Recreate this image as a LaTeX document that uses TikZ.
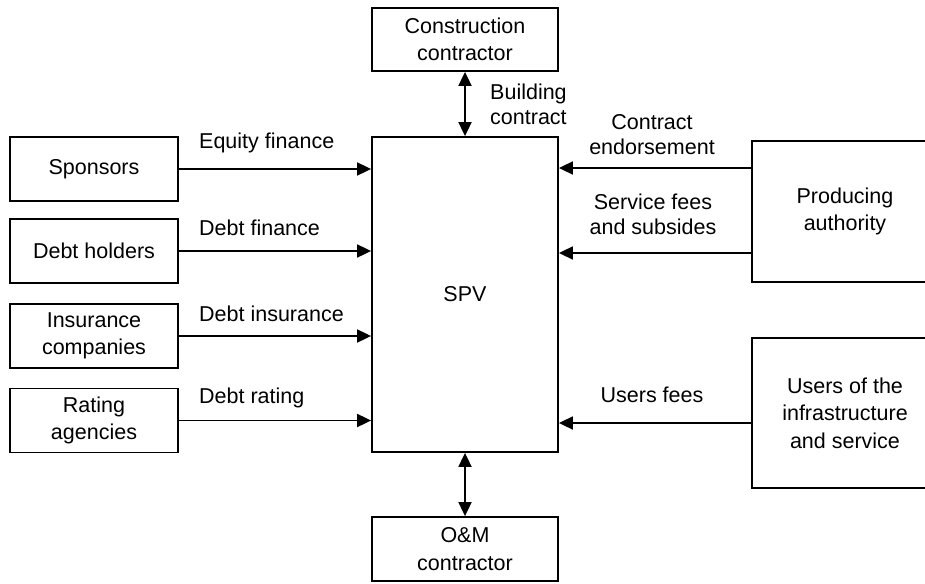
\documentclass[tikz,border=0pt]{standalone}
\usepackage{fontspec}
\setmainfont{Liberation Sans}
\usetikzlibrary{arrows.meta}
\begin{document}
\begin{tikzpicture}[x=1pt,y=-1pt,
  every node/.style={font=\fontsize{21.5}{27.5}\selectfont},
  box/.style={draw,line width=1.8pt,align=center,inner sep=0pt,minimum width=#1},
  box/.default=186pt,
  lbl/.style={inner sep=0pt,align=center,font=\fontsize{21.5}{25}\selectfont},
  arr/.style={line width=1.8pt,-{Triangle[length=14pt,width=13pt]}},
  darr/.style={line width=1.8pt,{Triangle[length=14pt,width=13pt]}-{Triangle[length=14pt,width=13pt]}}]
\useasboundingbox (0,0) rectangle (925,583);
\clip (0,0) rectangle (925,583);

% central vehicle and its contractors
\node[box,minimum height=63pt] (cons) at (465,39.5) {Construction\\contractor};
\node[box,minimum height=315pt] (spv) at (465,294.5) {SPV};
\node[box,minimum height=64pt] (om) at (465,549) {O\&M\\contractor};

% financing parties
\node[box=168pt,minimum height=64pt] (spon) at (94,169) {Sponsors};
\node[box=168pt,minimum height=64pt] (debt) at (94,251) {Debt holders};
\node[box=168pt,minimum height=64pt] (ins)  at (94,336) {Insurance\\companies};
\node[box=168pt,minimum height=64pt] (rate) at (94,420.5) {Rating\\agencies};

% public side
\node[box,minimum height=141pt] (prod) at (845,211.5) {Producing\\authority};
\node[box,minimum height=150pt] (users) at (845,413) {Users of the\\infrastructure\\and service};

% contracts with the builders and operators
\draw[darr] (cons.south) -- (spv.north);
\draw[darr] (spv.south) -- (om.north);
\node[lbl,anchor=west,align=left] (lbuild) at (490,104.5) {Building\\contract};

% financing flows
\draw[arr] (spon.east) -- (spon.east -| spv.west);
\draw[arr] (debt.east) -- (debt.east -| spv.west);
\draw[arr] (ins.east)  -- (ins.east -| spv.west);
\draw[arr] (rate.east) -- (rate.east -| spv.west);
\node[lbl,anchor=west] (leq)  at (199,143) {Equity finance};
\node[lbl,anchor=west] (ldf)  at (199,228) {Debt finance};
\node[lbl,anchor=west] (ldi)  at (199,314) {Debt insurance};
\node[lbl,anchor=west] (ldr)  at (199,398) {Debt rating};

% flows from the authority and the users
\draw[arr] ([yshift=43.5pt]prod.west) -- ([yshift=43.5pt]prod.west -| spv.east);
\draw[arr] ([yshift=-41.5pt]prod.west) -- ([yshift=-41.5pt]prod.west -| spv.east);
\draw[arr] ([yshift=-10pt]users.west) -- ([yshift=-10pt]users.west -| spv.east);
\node[lbl] (lce) at (652,135) {Contract\\endorsement};
\node[lbl] (lsf) at (653,214.5) {Service fees\\and subsides};
\node[lbl] (luf) at (652,395) {Users fees};
\end{tikzpicture}
\end{document}
